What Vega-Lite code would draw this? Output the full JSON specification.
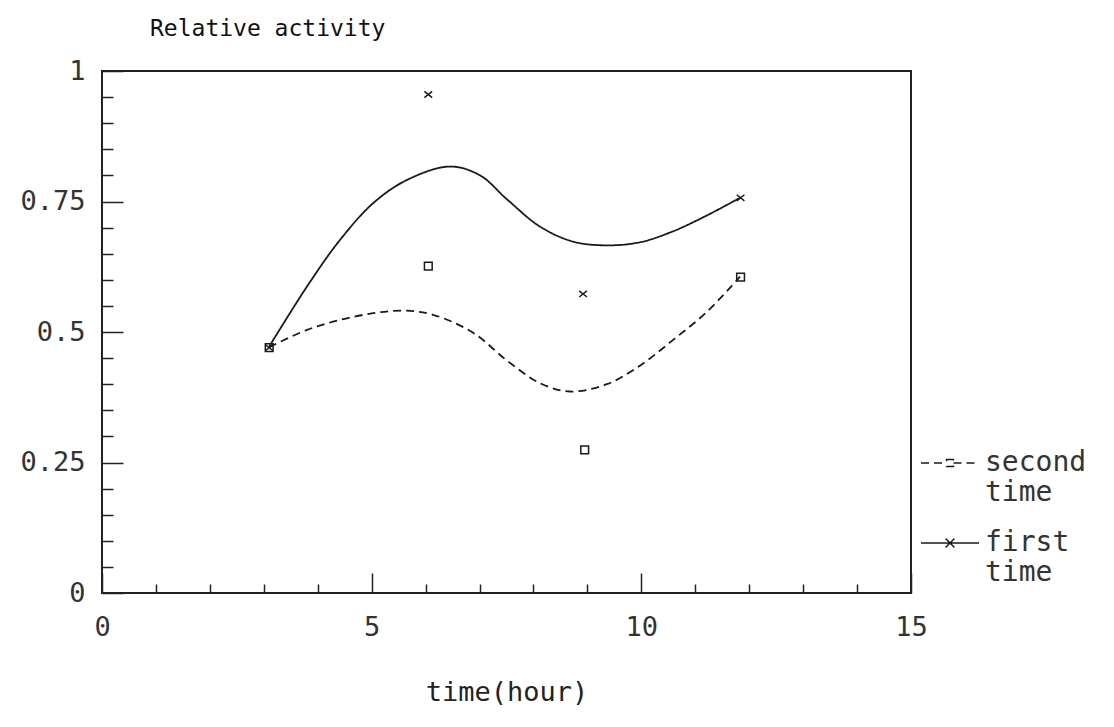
{
  "$schema": "https://vega.github.io/schema/vega-lite/v6.json",
  "autosize": "none",
  "width": 809,
  "height": 522,
  "padding": {"left": 102, "top": 71, "right": 203, "bottom": 134},
  "background": "white",
  "config": {
    "view": {"stroke": "#222", "strokeWidth": 2},
    "font": "DejaVu Sans Mono"
  },
  "title": {
    "text": "Relative activity",
    "anchor": "start",
    "frame": "group",
    "dx": 48,
    "offset": 16,
    "font": "DejaVu Sans Mono",
    "fontSize": 23,
    "fontWeight": "normal",
    "color": "#111"
  },
  "datasets": {
    "curves": [
      {"series": "first time", "x": 3.10, "y": 0.472},
      {"series": "first time", "x": 3.80, "y": 0.587},
      {"series": "first time", "x": 4.41, "y": 0.676},
      {"series": "first time", "x": 5.03, "y": 0.747},
      {"series": "first time", "x": 5.65, "y": 0.791},
      {"series": "first time", "x": 6.45, "y": 0.817},
      {"series": "first time", "x": 7.01, "y": 0.800},
      {"series": "first time", "x": 7.50, "y": 0.755},
      {"series": "first time", "x": 8.12, "y": 0.702},
      {"series": "first time", "x": 8.74, "y": 0.673},
      {"series": "first time", "x": 9.36, "y": 0.666},
      {"series": "first time", "x": 9.98, "y": 0.672},
      {"series": "first time", "x": 10.59, "y": 0.693},
      {"series": "first time", "x": 11.21, "y": 0.723},
      {"series": "first time", "x": 11.83, "y": 0.757},
      {"series": "second time", "x": 3.10, "y": 0.471},
      {"series": "second time", "x": 3.80, "y": 0.504},
      {"series": "second time", "x": 4.41, "y": 0.523},
      {"series": "second time", "x": 5.03, "y": 0.536},
      {"series": "second time", "x": 5.59, "y": 0.541},
      {"series": "second time", "x": 6.14, "y": 0.533},
      {"series": "second time", "x": 6.89, "y": 0.498},
      {"series": "second time", "x": 7.50, "y": 0.446},
      {"series": "second time", "x": 8.12, "y": 0.402},
      {"series": "second time", "x": 8.68, "y": 0.386},
      {"series": "second time", "x": 9.36, "y": 0.400},
      {"series": "second time", "x": 9.98, "y": 0.436},
      {"series": "second time", "x": 10.59, "y": 0.485},
      {"series": "second time", "x": 11.21, "y": 0.538},
      {"series": "second time", "x": 11.83, "y": 0.606}
    ],
    "points": [
      {"series": "first time", "x": 3.1, "y": 0.47},
      {"series": "first time", "x": 6.05, "y": 0.955},
      {"series": "first time", "x": 8.92, "y": 0.573},
      {"series": "first time", "x": 11.84, "y": 0.757},
      {"series": "second time", "x": 3.1, "y": 0.47},
      {"series": "second time", "x": 6.05, "y": 0.626},
      {"series": "second time", "x": 8.95, "y": 0.274},
      {"series": "second time", "x": 11.84, "y": 0.605}
    ]
  },
  "encoding": {
    "x": {
      "field": "x",
      "type": "quantitative",
      "scale": {"domain": [0, 15], "nice": false, "zero": false},
      "axis": {
        "title": "time(hour)",
        "values": [0,1,2,3,4,5,6,7,8,9,10,11,12,13,14,15],
        "labelExpr": "datum.value % 5 == 0 ? datum.label : ''",
        "format": "~g",
        "grid": false,
        "domain": false,
        "ticks": true,
        "tickSize": {"condition": {"test": "datum.value % 5 == 0", "value": -20}, "value": -9},
        "tickColor": "#222",
        "tickWidth": 1.5,
        "labelPadding": 41,
        "labelFont": "DejaVu Sans Mono",
        "labelFontSize": 27,
        "labelColor": "#333",
        "labelFlush": false,
        "labelOverlap": false,
        "titleFont": "DejaVu Sans Mono",
        "titleFontSize": 27,
        "titleFontWeight": "normal",
        "titleColor": "#222",
        "titlePadding": 28
      }
    },
    "y": {
      "field": "y",
      "type": "quantitative",
      "scale": {"domain": [0, 1], "nice": false, "zero": false},
      "axis": {
        "title": null,
        "values": [0,0.05,0.1,0.15,0.2,0.25,0.3,0.35,0.4,0.45,0.5,0.55,0.6,0.65,0.7,0.75,0.8,0.85,0.9,0.95,1],
        "labelExpr": "indexof([0,0.25,0.5,0.75,1], datum.value) >= 0 ? datum.label : ''",
        "format": "~g",
        "grid": false,
        "domain": false,
        "ticks": true,
        "tickSize": {"condition": {"test": "indexof([0,0.25,0.5,0.75,1], datum.value) >= 0", "value": -21}, "value": -11},
        "tickColor": "#222",
        "tickWidth": 1.5,
        "labelPadding": 38,
        "labelFont": "DejaVu Sans Mono",
        "labelFontSize": 27,
        "labelColor": "#333",
        "labelFlush": false,
        "labelOverlap": false
      }
    }
  },
  "layer": [
    {
      "data": {"name": "curves"},
      "mark": {"type": "line", "interpolate": "catmull-rom", "color": "#1a1a1a", "strokeWidth": 1.8},
      "encoding": {
        "detail": {"field": "series"},
        "strokeDash": {
          "field": "series",
          "type": "nominal",
          "scale": {"domain": ["second time", "first time"], "range": [[8, 5], [1, 0]]},
          "legend": {
            "title": null,
            "orient": "none",
            "legendX": 818,
            "legendY": 362,
            "padding": 0,
            "symbolSize": 3364,
            "symbolStrokeWidth": 1.5,
            "symbolStrokeColor": "#1a1a1a",
            "symbolFillColor": "transparent",
            "labelFont": "DejaVu Sans Mono",
            "labelFontSize": 28,
            "labelColor": "#333",
            "labelOffset": 5,
            "labelLimit": 0,
            "rowPadding": 6,
            "labelExpr": "datum.label == 'second time' ? ['second', 'time'] : ['first', 'time']",
            "encode": {
              "symbols": {"update": {"shape": {"signal": "datum.value == 'first time' ? 'M-1,0H1M-0.15,-0.15L0.15,0.15M-0.15,0.15L0.15,-0.15' : 'M-1,0H-0.12M0.12,0H1M-0.12,-0.12H0.12V0.12H-0.12Z'"}}}
            }
          }
        }
      }
    },
    {
      "data": {"name": "points"},
      "mark": {"type": "point", "filled": false, "color": "#1a1a1a", "strokeWidth": 1.5, "size": 60, "opacity": 1},
      "encoding": {
        "shape": {
          "field": "series",
          "type": "nominal",
          "scale": {"domain": ["first time", "second time"], "range": ["M-1,-0.8L1,0.8M-1,0.8L1,-0.8", "square"]},
          "legend": null
        }
      }
    }
  ]
}
